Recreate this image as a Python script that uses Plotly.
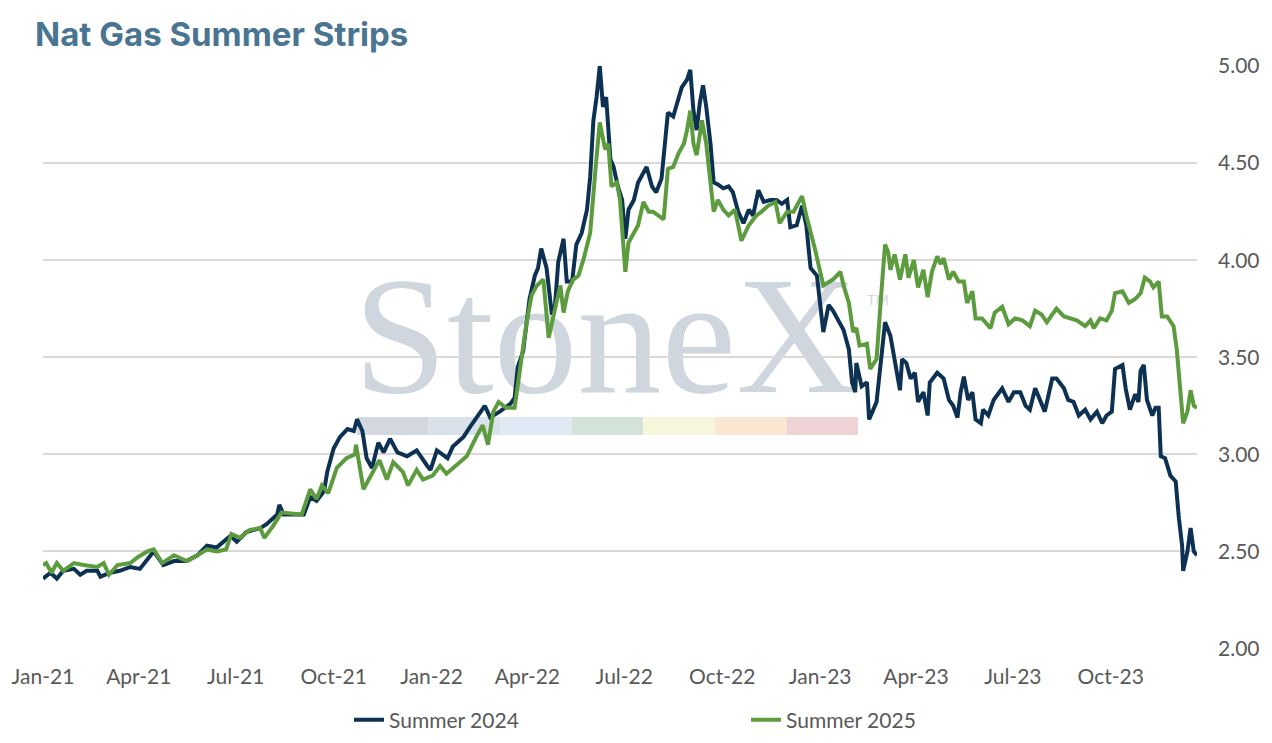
import plotly.graph_objects as go

# Summer 2024 strip
dates_2024 = [
    "2021-01-01", "2021-01-08", "2021-01-14", "2021-01-20", "2021-01-30", "2021-02-05", "2021-02-11",
    "2021-02-21", "2021-02-24", "2021-03-05", "2021-03-14", "2021-03-24", "2021-04-02", "2021-04-09",
    "2021-04-15", "2021-04-24", "2021-05-04", "2021-05-16", "2021-05-26", "2021-06-04", "2021-06-13",
    "2021-06-26", "2021-07-02", "2021-07-11", "2021-07-24", "2021-07-30", "2021-08-09", "2021-08-11",
    "2021-08-15", "2021-08-28", "2021-09-03", "2021-09-09", "2021-09-15", "2021-09-22", "2021-09-25",
    "2021-10-01", "2021-10-07", "2021-10-14", "2021-10-20", "2021-10-23", "2021-10-28", "2021-11-01",
    "2021-11-06", "2021-11-12", "2021-11-17", "2021-11-23", "2021-11-30", "2021-12-09", "2021-12-18",
    "2021-12-28", "2021-12-31", "2022-01-06", "2022-01-16", "2022-01-21", "2022-01-31", "2022-02-06",
    "2022-02-12", "2022-02-20", "2022-02-25", "2022-03-06", "2022-03-16", "2022-03-20", "2022-03-23",
    "2022-03-28", "2022-04-03", "2022-04-08", "2022-04-11", "2022-04-14", "2022-04-19", "2022-04-24",
    "2022-04-27", "2022-04-30", "2022-05-05", "2022-05-08", "2022-05-13", "2022-05-17", "2022-05-22",
    "2022-05-27", "2022-05-30", "2022-06-02", "2022-06-05", "2022-06-08", "2022-06-11", "2022-06-14",
    "2022-06-18", "2022-06-21", "2022-06-25", "2022-06-29", "2022-07-02", "2022-07-05", "2022-07-10",
    "2022-07-14", "2022-07-19", "2022-07-22", "2022-07-27", "2022-07-31", "2022-08-05", "2022-08-11",
    "2022-08-16", "2022-08-19", "2022-08-24", "2022-08-29", "2022-09-01", "2022-09-04", "2022-09-07",
    "2022-09-10", "2022-09-13", "2022-09-16", "2022-09-20", "2022-09-23", "2022-09-27", "2022-10-02",
    "2022-10-07", "2022-10-11", "2022-10-16", "2022-10-21", "2022-10-26", "2022-10-30", "2022-11-04",
    "2022-11-09", "2022-11-15", "2022-11-21", "2022-11-26", "2022-12-01", "2022-12-04", "2022-12-10",
    "2022-12-15", "2022-12-19", "2022-12-23", "2022-12-29", "2023-01-01", "2023-01-04", "2023-01-09",
    "2023-01-13", "2023-01-23", "2023-01-28", "2023-01-31", "2023-02-03", "2023-02-04", "2023-02-09",
    "2023-02-14", "2023-02-16", "2023-02-23", "2023-02-28", "2023-03-03", "2023-03-08", "2023-03-11",
    "2023-03-14", "2023-03-17", "2023-03-19", "2023-03-23", "2023-03-27", "2023-03-31", "2023-04-03",
    "2023-04-08", "2023-04-12", "2023-04-14", "2023-04-21", "2023-04-27", "2023-05-02", "2023-05-06",
    "2023-05-10", "2023-05-13", "2023-05-16", "2023-05-20", "2023-05-24", "2023-05-27", "2023-06-01",
    "2023-06-03", "2023-06-08", "2023-06-13", "2023-06-21", "2023-06-27", "2023-07-02", "2023-07-08",
    "2023-07-13", "2023-07-17", "2023-07-22", "2023-07-27", "2023-07-31", "2023-08-07", "2023-08-11",
    "2023-08-18", "2023-08-22", "2023-08-27", "2023-09-01", "2023-09-07", "2023-09-12", "2023-09-18",
    "2023-09-23", "2023-09-27", "2023-10-02", "2023-10-05", "2023-10-12", "2023-10-15", "2023-10-19",
    "2023-10-24", "2023-10-27", "2023-10-29", "2023-11-01", "2023-11-04", "2023-11-09", "2023-11-12",
    "2023-11-15", "2023-11-17", "2023-11-21", "2023-11-26", "2023-12-01", "2023-12-04", "2023-12-07",
    "2023-12-08", "2023-12-12", "2023-12-15", "2023-12-18", "2023-12-21",
]
summer_2024 = [
    2.36, 2.39, 2.36, 2.40, 2.41, 2.38, 2.40,
    2.40, 2.37, 2.39, 2.40, 2.42, 2.41, 2.46,
    2.50, 2.43, 2.45, 2.45, 2.48, 2.53, 2.52,
    2.58, 2.55, 2.60, 2.62, 2.64, 2.69, 2.74,
    2.69, 2.69, 2.69, 2.78, 2.76, 2.81, 2.91,
    3.03, 3.09, 3.13, 3.12, 3.18, 3.12, 2.98,
    2.93, 3.06, 3.01, 3.08, 3.01, 2.99, 3.02,
    2.94, 2.92, 3.02, 2.98, 3.04, 3.09, 3.14,
    3.19, 3.25, 3.19, 3.22, 3.26, 3.29, 3.45,
    3.53, 3.80, 3.92, 3.96, 4.06, 3.96, 3.72,
    3.77, 3.99, 4.11, 3.89, 3.89, 4.08, 4.14,
    4.26, 4.43, 4.72, 4.84, 5.00, 4.79, 4.84,
    4.52, 4.48, 4.38, 4.31, 4.11, 4.26, 4.31,
    4.40, 4.45, 4.48, 4.38, 4.35, 4.42, 4.76,
    4.74, 4.79, 4.89, 4.93, 4.98, 4.77, 4.67,
    4.81, 4.90, 4.79, 4.60, 4.40, 4.39, 4.37,
    4.38, 4.35, 4.25, 4.19, 4.26, 4.23, 4.36,
    4.30, 4.31, 4.31, 4.29, 4.31, 4.17, 4.18,
    4.28, 4.18, 3.96, 3.92, 3.78, 3.63, 3.77,
    3.74, 3.64, 3.54, 3.37, 3.32, 3.47, 3.35,
    3.37, 3.18, 3.27, 3.54, 3.68, 3.61, 3.52,
    3.42, 3.33, 3.49, 3.47, 3.39, 3.42, 3.27,
    3.32, 3.20, 3.37, 3.42, 3.39, 3.28, 3.25,
    3.19, 3.32, 3.40, 3.28, 3.32, 3.18, 3.16,
    3.23, 3.20, 3.28, 3.34, 3.27, 3.32, 3.32,
    3.25, 3.23, 3.34, 3.28, 3.22, 3.39, 3.39,
    3.34, 3.28, 3.27, 3.20, 3.23, 3.18, 3.22,
    3.16, 3.20, 3.22, 3.44, 3.46, 3.34, 3.23,
    3.31, 3.27, 3.43, 3.46, 3.28, 3.20, 3.24,
    3.24, 2.99, 2.98, 2.89, 2.86, 2.67, 2.53,
    2.40, 2.50, 2.62, 2.50, 2.48,
]

# Summer 2025 strip
dates_2025 = [
    "2021-01-01", "2021-01-04", "2021-01-09", "2021-01-14", "2021-01-20", "2021-01-30", "2021-02-08",
    "2021-02-21", "2021-02-27", "2021-03-04", "2021-03-12", "2021-03-24", "2021-03-31", "2021-04-09",
    "2021-04-15", "2021-04-23", "2021-05-04", "2021-05-16", "2021-05-26", "2021-06-04", "2021-06-13",
    "2021-06-22", "2021-06-27", "2021-07-05", "2021-07-14", "2021-07-24", "2021-07-28", "2021-08-05",
    "2021-08-13", "2021-08-27", "2021-09-01", "2021-09-09", "2021-09-15", "2021-09-20", "2021-09-26",
    "2021-10-04", "2021-10-13", "2021-10-21", "2021-10-22", "2021-10-29", "2021-11-04", "2021-11-13",
    "2021-11-20", "2021-11-26", "2021-12-05", "2021-12-10", "2021-12-18", "2021-12-24", "2022-01-02",
    "2022-01-09", "2022-01-15", "2022-02-03", "2022-02-12", "2022-02-18", "2022-02-23", "2022-02-28",
    "2022-03-05", "2022-03-12", "2022-03-20", "2022-03-25", "2022-03-31", "2022-04-05", "2022-04-10",
    "2022-04-16", "2022-04-21", "2022-04-25", "2022-05-02", "2022-05-05", "2022-05-09", "2022-05-14",
    "2022-05-19", "2022-05-24", "2022-05-30", "2022-06-04", "2022-06-08", "2022-06-13", "2022-06-16",
    "2022-06-19", "2022-06-24", "2022-06-27", "2022-06-30", "2022-07-02", "2022-07-05", "2022-07-10",
    "2022-07-14", "2022-07-19", "2022-07-24", "2022-07-28", "2022-08-02", "2022-08-07", "2022-08-11",
    "2022-08-16", "2022-08-21", "2022-08-26", "2022-08-29", "2022-09-01", "2022-09-04", "2022-09-07",
    "2022-09-12", "2022-09-16", "2022-09-23", "2022-09-27", "2022-10-02", "2022-10-07", "2022-10-13",
    "2022-10-19", "2022-10-26", "2022-11-02", "2022-11-07", "2022-11-13", "2022-11-20", "2022-11-24",
    "2022-12-01", "2022-12-07", "2022-12-15", "2022-12-19", "2022-12-27", "2023-01-04", "2023-01-13",
    "2023-01-20", "2023-01-23", "2023-01-28", "2023-02-01", "2023-02-04", "2023-02-07", "2023-02-14",
    "2023-02-17", "2023-02-23", "2023-02-28", "2023-03-03", "2023-03-06", "2023-03-08", "2023-03-12",
    "2023-03-17", "2023-03-22", "2023-03-25", "2023-03-30", "2023-04-03", "2023-04-08", "2023-04-12",
    "2023-04-16", "2023-04-21", "2023-04-24", "2023-04-27", "2023-05-02", "2023-05-06", "2023-05-11",
    "2023-05-16", "2023-05-19", "2023-05-24", "2023-05-27", "2023-06-02", "2023-06-10", "2023-06-14",
    "2023-06-21", "2023-06-27", "2023-07-03", "2023-07-10", "2023-07-17", "2023-07-22", "2023-07-28",
    "2023-08-02", "2023-08-07", "2023-08-11", "2023-08-18", "2023-08-24", "2023-08-30", "2023-09-07",
    "2023-09-12", "2023-09-15", "2023-09-21", "2023-09-27", "2023-10-02", "2023-10-05", "2023-10-12",
    "2023-10-18", "2023-10-24", "2023-10-29", "2023-11-02", "2023-11-07", "2023-11-10", "2023-11-15",
    "2023-11-18", "2023-11-23", "2023-11-29", "2023-12-02", "2023-12-05", "2023-12-08", "2023-12-12",
    "2023-12-15", "2023-12-18", "2023-12-21",
]
summer_2025 = [
    2.43, 2.44, 2.39, 2.44, 2.40, 2.44, 2.43,
    2.42, 2.44, 2.38, 2.43, 2.44, 2.47, 2.50,
    2.51, 2.44, 2.48, 2.45, 2.48, 2.51, 2.50,
    2.51, 2.59, 2.57, 2.61, 2.62, 2.57, 2.63,
    2.70, 2.69, 2.69, 2.82, 2.77, 2.84, 2.80,
    2.93, 2.98, 3.00, 3.05, 2.82, 2.88, 2.97,
    2.87, 2.96, 2.91, 2.84, 2.92, 2.87, 2.89,
    2.94, 2.90, 2.99, 3.09, 3.15, 3.05, 3.22,
    3.27, 3.24, 3.24, 3.44, 3.67, 3.82, 3.87,
    3.90, 3.60, 3.70, 3.87, 3.73, 3.84, 3.90,
    3.92, 4.01, 4.14, 4.47, 4.71, 4.57, 4.60,
    4.38, 4.40, 4.31, 4.08, 3.94, 4.09, 4.14,
    4.18, 4.30, 4.25, 4.25, 4.23, 4.21, 4.47,
    4.48, 4.55, 4.60, 4.67, 4.77, 4.60, 4.54,
    4.72, 4.60, 4.25, 4.31, 4.26, 4.23, 4.26,
    4.10, 4.18, 4.23, 4.25, 4.28, 4.30, 4.19,
    4.25, 4.25, 4.33, 4.23, 4.06, 3.87, 3.90,
    3.94, 3.87, 3.78, 3.63, 3.65, 3.56, 3.57,
    3.44, 3.49, 3.87, 4.08, 4.04, 3.95, 4.03,
    3.90, 4.03, 3.91, 4.00, 3.86, 3.95, 3.81,
    3.94, 4.02, 3.98, 4.01, 3.90, 3.94, 3.89,
    3.89, 3.78, 3.84, 3.70, 3.70, 3.65, 3.73,
    3.76, 3.67, 3.70, 3.69, 3.66, 3.74, 3.72,
    3.68, 3.72, 3.75, 3.71, 3.70, 3.69, 3.66,
    3.69, 3.65, 3.70, 3.69, 3.74, 3.83, 3.84,
    3.78, 3.80, 3.83, 3.91, 3.89, 3.86, 3.89,
    3.71, 3.71, 3.66, 3.54, 3.37, 3.16, 3.22,
    3.33, 3.25, 3.24,
]

NAVY = "#0d3153"
GREEN = "#5c9c3e"
TEXT_GREY = "#595959"
GRID = "#d9d9d9"

# pale colour band under the watermark
BAND_COLORS = ["#d1d8e0", "#d9e2ea", "#dfeaf4", "#d4e3da", "#f7f6dd", "#f9e7d1", "#f0d3d5"]


def px_x(p):
    # page pixel -> paper fraction (plot spans 43..1197)
    return (p - 43) / 1154


def px_y(p):
    # page pixel -> paper fraction (plot spans 66..650)
    return (650 - p) / 584


fig = go.Figure()

fig.add_trace(
    go.Scatter(
        x=dates_2024,
        y=summer_2024,
        mode="lines",
        name="Summer 2024",
        line=dict(color=NAVY, width=4),
    )
)
fig.add_trace(
    go.Scatter(
        x=dates_2025,
        y=summer_2025,
        mode="lines",
        name="Summer 2025",
        line=dict(color=GREEN, width=4),
    )
)

# StoneX watermark, kept under the grid and the lines
shapes = [
    dict(
        type="rect",
        xref="paper", yref="paper",
        x0=px_x(350), x1=px_x(861), y0=px_y(375), y1=px_y(260),
        line=dict(width=0),
        fillcolor="rgba(0,0,0,0)",
        layer="below",
        label=dict(
            text="StoneX",
            font=dict(family="Liberation Serif", size=168, color="#cfd6de"),
            textposition="middle center",
        ),
    ),
    dict(
        type="rect",
        xref="paper", yref="paper",
        x0=px_x(864), x1=px_x(892), y0=px_y(308), y1=px_y(292),
        line=dict(width=0),
        fillcolor="rgba(0,0,0,0)",
        layer="below",
        label=dict(
            text="TM",
            font=dict(family="Lato", size=14, color="#cfd6de"),
            textposition="middle center",
        ),
    ),
]
seg_w = (858 - 357) / len(BAND_COLORS)
for i, c in enumerate(BAND_COLORS):
    shapes.append(
        dict(
            type="rect",
            xref="paper", yref="paper",
            x0=px_x(357 + i * seg_w), x1=px_x(357 + (i + 1) * seg_w),
            y0=px_y(436), y1=px_y(418),
            line=dict(width=0),
            fillcolor=c,
            layer="below",
        )
    )

fig.update_layout(
    width=1272,
    height=743,
    paper_bgcolor="white",
    plot_bgcolor="rgba(0,0,0,0)",
    margin=dict(l=43, r=75, t=66, b=93),
    font=dict(family="Lato", size=21, color=TEXT_GREY),
    title=dict(
        text="<b>Nat Gas Summer Strips</b>",
        x=35 / 1272,
        xanchor="left",
        xref="container",
        y=1 - 34 / 743,
        yanchor="middle",
        yref="container",
        font=dict(family="Inter", size=33, color="#4a7592"),
    ),
    shapes=shapes,
    showlegend=True,
    legend=dict(
        orientation="h",
        xref="container",
        yref="container",
        x=349 / 1272,
        xanchor="left",
        y=1 - 720 / 743,
        yanchor="middle",
        entrywidth=352,
        entrywidthmode="pixels",
        font=dict(family="Lato", size=21, color=TEXT_GREY),
    ),
    xaxis=dict(
        range=["2021-01-01", "2023-12-21"],
        tick0="2021-01-01",
        dtick="M3",
        tickformat="%b-%y",
        showgrid=False,
        zeroline=False,
        showline=False,
        ticks="",
        ticklabelstandoff=13,
        tickfont=dict(size=21, color=TEXT_GREY),
    ),
    yaxis=dict(
        range=[2, 5],
        side="right",
        dtick=0.5,
        tickformat=".2f",
        showgrid=True,
        gridcolor=GRID,
        gridwidth=2,
        zeroline=False,
        showline=False,
        ticks="",
        ticklabelstandoff=20,
        tickfont=dict(size=21, color=TEXT_GREY),
    ),
    hovermode="x unified",
)

# drop the default page margin so the figure sits flush in the window
fig.write_html(
    "out.html",
    config={"displayModeBar": False},
    post_script="document.body.style.margin='0';",
)
